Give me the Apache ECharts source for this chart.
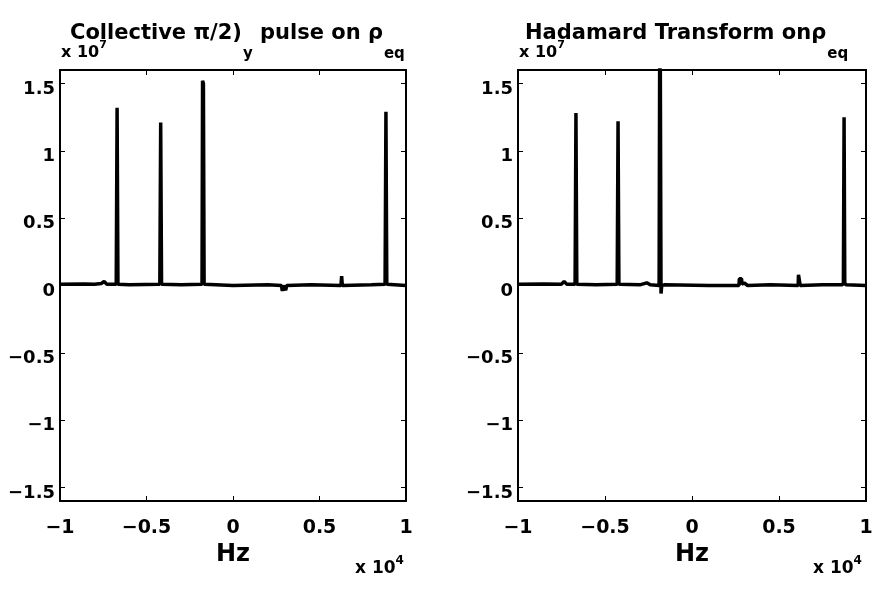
<!DOCTYPE html>
<html>
<head>
<meta charset="utf-8">
<script src="https://cdn.jsdelivr.net/npm/echarts@6/dist/echarts.min.js"></script>
<style>html,body{margin:0;padding:0;background:#fff}#c{width:883px;height:594px}</style>
</head>
<body>
<div id="c"></div>
<script>
// Frequency in units of 10^4 Hz, amplitude in units of 10^7
const freqLeft = [-1.0, -0.86, -0.80, -0.76, -0.745, -0.73, -0.675, -0.670, -0.665, -0.60, -0.423, -0.418, -0.413, -0.30, -0.179, -0.176, -0.171, -0.167, 0.0, 0.2, 0.28, 0.285, 0.29, 0.30, 0.305, 0.31, 0.32, 0.45, 0.624, 0.628, 0.632, 0.80, 0.879, 0.884, 0.889, 1.0];
const ampLeft  = [0.01, 0.012, 0.01, 0.015, 0.03, 0.01, 0.01, 1.32, 0.01, 0.005, 0.01, 1.21, 0.01, 0.005, 0.01, 1.52, 1.50, 0.01, 0.0, 0.005, 0.0, -0.04, 0.0, 0.0, -0.035, 0.0, 0.0, 0.005, 0.0, 0.07, 0.0, 0.005, 0.01, 1.29, 0.01, 0.0];
const freqRight = [-1.0, -0.85, -0.75, -0.735, -0.72, -0.672, -0.667, -0.662, -0.55, -0.43, -0.425, -0.42, -0.30, -0.26, -0.24, -0.189, -0.186, -0.182, -0.178, -0.174, -0.16, 0.1, 0.27, 0.272, 0.285, 0.287, 0.30, 0.31, 0.32, 0.45, 0.61, 0.612, 0.62, 0.622, 0.75, 0.865, 0.870, 0.874, 0.878, 0.885, 1.0];
const ampRight  = [0.01, 0.012, 0.01, 0.03, 0.01, 0.01, 1.28, 0.01, 0.005, 0.01, 1.22, 0.01, 0.005, 0.02, 0.005, 0.0, 1.62, 1.60, -0.06, 0.0, 0.005, 0.0, 0.0, 0.05, 0.05, 0.01, 0.02, 0.01, 0.0, 0.005, 0.0, 0.08, 0.08, 0.0, 0.005, 0.005, 0.02, 1.25, 0.02, 0.005, 0.0];
const yTicks = [-1.5, -1, -0.5, 0, 0.5, 1, 1.5];
const xMin = -1, xMax = 1, xStep = 0.5;
const titles = ['Collective π/2)', 'y', ' pulse on ρ', 'eq'];
const titles2 = ['Hadamard Transform on', 'ρ', 'eq'];

const F = 'DejaVu Sans';
const fmt = v => v === 0 ? '0' : (v < 0 ? '−' : '') + String(Math.abs(+v.toFixed(2)));
const lbl = {color:'#000', fontFamily:F, fontWeight:'bold'};

function xAxes(g){
  return [{
    type:'value', gridIndex:g, min:xMin, max:xMax, interval:xStep, position:'bottom',
    axisLine:{show:true, onZero:false, lineStyle:{color:'#000', width:2}},
    axisTick:{show:true, inside:true, length:5, lineStyle:{color:'#000', width:1}},
    axisLabel:Object.assign({fontSize:19, margin:18, showMinLabel:true, showMaxLabel:true, formatter:fmt}, lbl),
    splitLine:{show:false},
    name:'Hz', nameLocation:'middle', nameGap:42,
    nameTextStyle:Object.assign({fontSize:24}, lbl)
  },{
    type:'value', gridIndex:g, min:xMin, max:xMax, interval:xStep, position:'top',
    axisLine:{show:true, onZero:false, lineStyle:{color:'#000', width:2}},
    axisTick:{show:true, inside:true, length:5, lineStyle:{color:'#000', width:1}},
    axisLabel:{show:false}, splitLine:{show:false}
  }];
}
function yAxes(g){
  return [{
    type:'value', gridIndex:g, min:-1.6, max:1.6, position:'left',
    axisLine:{show:true, onZero:false, lineStyle:{color:'#000', width:2}},
    axisTick:{show:true, inside:true, length:5, customValues:yTicks, lineStyle:{color:'#000', width:1}},
    axisLabel:Object.assign({fontSize:18, margin:5, verticalAlign:'top', lineHeight:11, customValues:yTicks, formatter:fmt}, lbl),
    splitLine:{show:false}
  },{
    type:'value', gridIndex:g, min:-1.6, max:1.6, position:'right',
    axisLine:{show:true, onZero:false, lineStyle:{color:'#000', width:2}},
    axisTick:{show:true, inside:true, length:5, customValues:yTicks, lineStyle:{color:'#000', width:1}},
    axisLabel:{show:false}, splitLine:{show:false}
  }];
}

const mainRich = {
  m:{fontSize:21, fontWeight:'bold', fontFamily:F, color:'#000', lineHeight:24, verticalAlign:'top'},
  s:{fontSize:15, fontWeight:'bold', fontFamily:F, color:'#000', lineHeight:18, padding:[24,0,0,1], verticalAlign:'top'}
};
const expRich = {
  a:{fontSize:16, fontWeight:'bold', fontFamily:F, color:'#000', lineHeight:18, padding:[5,0,0,0], verticalAlign:'top'},
  b:{fontSize:11, fontWeight:'bold', fontFamily:F, color:'#000', lineHeight:12, verticalAlign:'top'}
};
const expRich2 = {
  a:{fontSize:17, fontWeight:'bold', fontFamily:F, color:'#000', lineHeight:20, padding:[5,0,0,0], verticalAlign:'top'},
  b:{fontSize:12, fontWeight:'bold', fontFamily:F, color:'#000', lineHeight:13, verticalAlign:'top'}
};

const chart = echarts.init(document.getElementById('c'), null, {renderer:'canvas'});
chart.setOption({
  animation:false,
  backgroundColor:'#fff',
  title:[
    {text:'{m|'+titles[0]+'}{s|'+titles[1]+'}{m|'+titles[2]+'}{s|'+titles[3]+'}', left:70, top:23, padding:0, textStyle:{rich:mainRich}},
    {text:'{m|'+titles2[0]+'}{m|'+titles2[1]+'}{s|'+titles2[2]+'}', left:525, top:23, padding:0, textStyle:{rich:mainRich}},
    {text:'{a|x 10}{b|7}', left:61, top:40, padding:0, textStyle:{rich:expRich}},
    {text:'{a|x 10}{b|7}', left:519, top:40, padding:0, textStyle:{rich:expRich}},
    {text:'{a|x 10}{b|4}', left:355, top:555, padding:0, textStyle:{rich:expRich2}},
    {text:'{a|x 10}{b|4}', left:813, top:555, padding:0, textStyle:{rich:expRich2}}
  ],
  grid:[
    {left:60, top:70, width:346, height:431, show:false},
    {left:518, top:70, width:348, height:431, show:false}
  ],
  xAxis:[...xAxes(0), ...xAxes(1)],
  yAxis:[...yAxes(0), ...yAxes(1)],
  series:[
    {type:'line', xAxisIndex:0, yAxisIndex:0, data:freqLeft.map((f,i)=>[f, ampLeft[i]]),
     showSymbol:false, lineStyle:{color:'#000', width:3.5}, clip:true},
    {type:'line', xAxisIndex:2, yAxisIndex:2, data:freqRight.map((f,i)=>[f, ampRight[i]]),
     showSymbol:false, lineStyle:{color:'#000', width:3.5}, clip:true}
  ]
});
</script>
</body>
</html>
